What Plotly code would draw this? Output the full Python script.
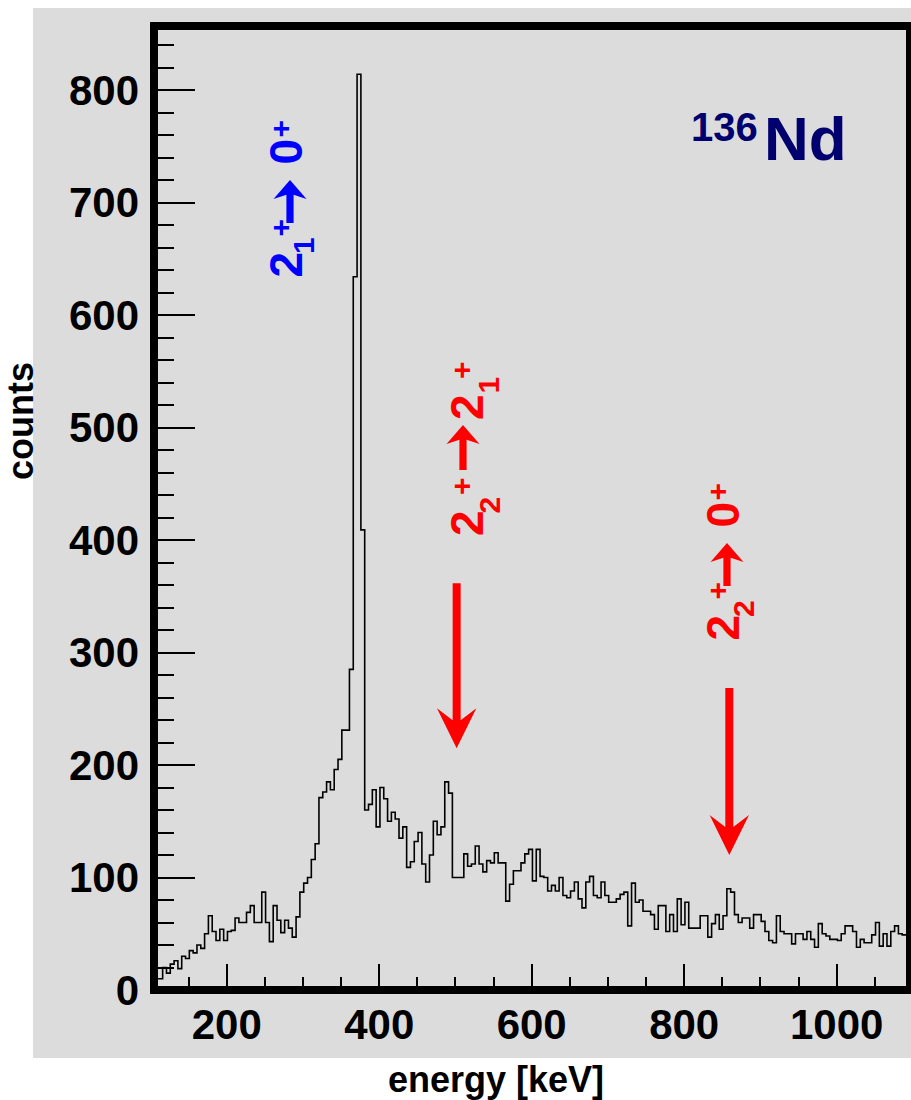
import numpy as np
import plotly.graph_objects as go

# ---------------- data ----------------
BIN_START = 101.0      # keV, lower edge of first bin
BIN_WIDTH = 5.0        # keV
# counts per 5 keV bin, 101 - 381 keV
counts_low = [8, 10, 10, 20, 15, 23, 26, 19, 30, 28,
              35, 33, 40, 37, 50, 66, 52, 44, 54, 44,
              52, 53, 64, 60, 60, 69, 75, 60, 60, 87,
              60, 43, 75, 62, 51, 62, 55, 47, 65, 87,
              95, 100, 116, 130, 171, 176, 185, 178, 196, 205,
              231, 231, 285, 634, 814, 409]
# 381 - 491 keV
counts_mid = [160, 165, 178, 145, 180, 170, 150, 158, 152, 135,
              145, 109, 114, 132, 140, 112, 96, 120, 150, 138, 145, 185]
# 491 - 1096 keV
counts_high = [175, 100, 100, 100, 121, 110, 112, 128, 112, 105,
               115, 113, 122, 113, 113, 79, 94, 106, 106, 113,
               121, 125, 97, 125, 101, 100, 88, 93, 88, 100,
               84, 82, 88, 96, 81, 73, 96, 101, 84, 82,
               96, 84, 78, 78, 81, 85, 87, 57, 95, 78,
               80, 70, 70, 67, 54, 75, 75, 52, 67, 52,
               81, 58, 78, 55, 55, 55, 66, 66, 47, 59,
               67, 54, 66, 90, 87, 67, 60, 64, 64, 55,
               67, 67, 61, 52, 44, 42, 66, 52, 50, 50,
               41, 50, 50, 45, 52, 45, 38, 59, 50, 48,
               45, 45, 44, 50, 57, 57, 52, 38, 45, 42,
               42, 49, 60, 39, 50, 39, 52, 57, 50, 49, 49]

X_RANGE = [104.65, 1096.2]
Y_RANGE = [0, 856.9]
x_ticks = [200, 400, 600, 800, 1000]
y_ticks = [0, 100, 200, 300, 400, 500, 600, 700, 800]

# transitions marked by red arrows: energy [keV], count at arrow tip
arrow_energy = [501.6, 859.2]
arrow_tip = [215, 120]
arrow_shaft_px = [165, 167]

counts = counts_low + counts_mid + counts_high
edges = BIN_START + BIN_WIDTH * np.arange(len(counts) + 1)
yvals = counts + [counts[-1]]

# ---------------- layout geometry ----------------
W, H = 911, 1100
L, R, T, B = 154, 1, 26, 110
PW = W - L - R
PH = H - T - B
FONT = "Liberation Sans"
GRAY = "#dcdcdc"


def px(xp):
    return (xp - L) / PW


def py(yp):
    return (H - B - yp) / PH


fig = go.Figure()
fig.add_trace(go.Scatter(x=edges, y=yvals, mode="lines",
                         line=dict(shape="hv", color="black", width=1.6),
                         hoverinfo="skip", showlegend=False))

# gray canvas
fig.add_shape(type="rect", xref="paper", yref="paper",
              x0=px(33), x1=px(915), y0=py(1058), y1=py(8),
              fillcolor=GRAY, line=dict(width=0), layer="below")
# thick frame
fig.add_shape(type="rect", xref="paper", yref="paper", x0=0, x1=1, y0=0, y1=1,
              line=dict(color="black", width=8), layer="above")


def txt(s, xp, yp, size, color, angle=-90):
    fig.add_annotation(text=s, x=px(xp), y=py(yp), xref="paper", yref="paper",
                       showarrow=False, textangle=angle, xanchor="center",
                       yanchor="middle", borderpad=0,
                       font=dict(family=FONT, size=size, color=color, weight="bold"))


def small_arrow(xc, y_tail, y_tip, color, shw=3.6, hhw=16.5, hl=19):
    pts = [(xc - shw, y_tail), (xc - shw, y_tip + hl * 0.78), (xc - hhw, y_tip + hl),
           (xc, y_tip), (xc + hhw, y_tip + hl), (xc + shw, y_tip + hl * 0.78),
           (xc + shw, y_tail)]
    path = "M " + " L ".join(f"{px(a):.5f},{py(b):.5f}" for a, b in pts) + " Z"
    fig.add_shape(type="path", xref="paper", yref="paper", path=path,
                  fillcolor=color, line=dict(width=0), layer="above")


BLUE = "#0000ff"
RED = "#ff0000"
MAIN, SMALL = 46, 30

# blue label 2_1+ -> 0+
txt("2", 285.5, 265, MAIN, BLUE)
txt("1", 304, 246, SMALL, BLUE)
txt("+", 280, 227.5, SMALL, BLUE)
small_arrow(290, 223, 180, BLUE)
txt("0", 285, 151.5, MAIN, BLUE)
txt("+", 280, 128.5, SMALL, BLUE)

# red label 2_2+ -> 2_1+
txt("2", 466.5, 523.5, MAIN, RED)
txt("2", 488.5, 505, SMALL, RED)
txt("+", 461.5, 486.5, SMALL, RED)
small_arrow(463, 470, 425, RED)
txt("2", 466.5, 407.5, MAIN, RED)
txt("1", 487.5, 385, SMALL, RED)
txt("+", 461.5, 370.5, SMALL, RED)

# red label 2_2+ -> 0+
dx, dy = 437, 363
txt("2", 285.5 + dx, 265 + dy, MAIN, RED)
txt("2", 306 + dx, 246 + dy, SMALL, RED)
txt("+", 280 + dx, 227.5 + dy, SMALL, RED)
small_arrow(290 + dx, 223 + dy, 180 + dy, RED)
txt("0", 285 + dx, 151.5 + dy, MAIN, RED)
txt("+", 280 + dx, 128.5 + dy, SMALL, RED)

# big red arrows pointing at the transitions
for e, c, sl in zip(arrow_energy, arrow_tip, arrow_shaft_px):
    path = (f"M -4,{sl} L -4,28 L -19.7,40 L 0,0 L 19.7,40 L 4,28 L 4,{sl} Z")
    fig.add_shape(type="path", xref="x", yref="y", xsizemode="pixel", ysizemode="pixel",
                  xanchor=e, yanchor=c, path=path, fillcolor=RED,
                  line=dict(width=0), layer="above")

# nucleus label
NAVY = "#00006e"
txt("136", 724, 127, 40, NAVY, angle=0)
txt("Nd", 805, 138.5, 62, NAVY, angle=0)

# axis titles
txt("counts", 20, 421, 36, "black", angle=-90)
txt("energy [keV]", 496, 1079, 36, "black", angle=0)

fig.update_layout(
    width=W, height=H,
    margin=dict(l=L, r=R, t=T, b=B, pad=0),
    paper_bgcolor="white", plot_bgcolor=GRAY,
    showlegend=False,
    font=dict(family=FONT, color="black"),
)
fig.update_xaxes(range=X_RANGE, tickvals=x_ticks, ticks="inside", ticklen=26,
                 tickwidth=2, tickcolor="black", showgrid=False, zeroline=False,
                 showline=False, ticklabelstandoff=6,
                 tickfont=dict(family=FONT, size=42, color="black", weight="bold"),
                 minor=dict(dtick=50, tick0=0, ticks="inside", ticklen=13,
                            tickwidth=1.6, tickcolor="black", showgrid=False))
fig.update_yaxes(range=Y_RANGE, tickvals=y_ticks, ticks="inside", ticklen=41,
                 tickwidth=2, tickcolor="black", showgrid=False, zeroline=False,
                 showline=False, ticklabelstandoff=14,
                 tickfont=dict(family=FONT, size=42, color="black", weight="bold"),
                 minor=dict(dtick=20, tick0=0, ticks="inside", ticklen=20,
                            tickwidth=1.6, tickcolor="black", showgrid=False))

fig.write_html("out.html")
